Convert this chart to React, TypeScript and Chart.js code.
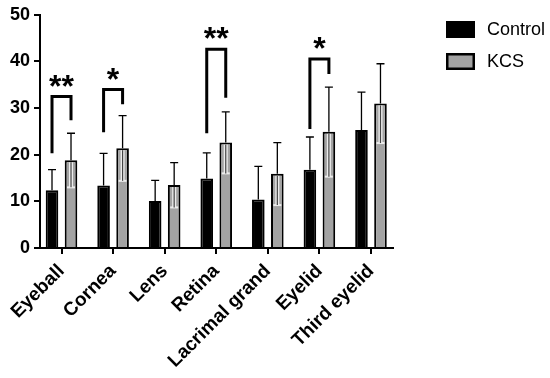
import React, { useEffect, useRef } from "react";
import { Chart, registerables } from "chart.js";
Chart.register(...registerables);

const categories = ["Eyeball", "Cornea", "Lens", "Retina", "Lacrimal grand", "Eyelid", "Third eyelid"];
const controlMeans = [12.4, 13.4, 10.1, 14.9, 10.4, 16.8, 25.3];
const controlSD = [4.4, 6.9, 4.4, 5.5, 7.1, 7.0, 8.1];
const kcsMeans = [18.8, 21.4, 13.5, 22.6, 15.9, 24.9, 31.0];
const kcsSD = [5.8, 7.0, 4.8, 6.6, 6.7, 9.6, 8.5];
const seriesNames = ["Control", "KCS"];

const sigCategory = [0, 1, 3, 5];
const sigLabels = ["**", "*", "**", "*"];
const sigLeftEnd = [20.3, 24.8, 24.6, 25.5];
const sigRightEnd = [27.4, 30.8, 32.2, 37.3];
const sigTop = [32.5, 34.0, 42.6, 40.5];
const sigLabelY = [35.9, 37.2, 46.0, 43.9];

const FONT = 'Arial, "Liberation Sans", Helvetica, sans-serif';

const errorBarPlugin = {
  id: "errorBars",
  afterDatasetsDraw(chart: any) {
    const ctx = chart.ctx;
    const y = chart.scales.y;
    chart.data.datasets.forEach((ds: any, di: number) => {
      const meta = chart.getDatasetMeta(di);
      meta.data.forEach((bar: any, i: number) => {
        const m = ds.data[i].y;
        const sd = ds.errors[i];
        const x = bar.x;
        const yTop = y.getPixelForValue(m + sd);
        const yMean = y.getPixelForValue(m);
        ctx.save();
        if (ds.innerError) {
          const yLow = y.getPixelForValue(m - sd);
          ctx.strokeStyle = "rgba(240,240,240,0.95)";
          ctx.lineWidth = 4;
          ctx.beginPath();
          ctx.moveTo(x, yMean + 2);
          ctx.lineTo(x, yLow);
          ctx.stroke();
          ctx.lineWidth = 2;
          ctx.beginPath();
          ctx.moveTo(x - 4, yLow);
          ctx.lineTo(x + 4, yLow);
          ctx.stroke();
          ctx.strokeStyle = "#444";
          ctx.lineWidth = 1.2;
          ctx.beginPath();
          ctx.moveTo(x, yMean + 2);
          ctx.lineTo(x, yLow);
          ctx.stroke();
        }
        ctx.strokeStyle = "#000";
        ctx.lineWidth = 1.3;
        ctx.beginPath();
        ctx.moveTo(x, yMean);
        ctx.lineTo(x, yTop);
        ctx.moveTo(x - 4, yTop);
        ctx.lineTo(x + 4, yTop);
        ctx.stroke();
        ctx.restore();
      });
    });
  },
};

const sigPlugin = {
  id: "significance",
  afterDraw(chart: any) {
    const ctx = chart.ctx;
    const y = chart.scales.y;
    const m0 = chart.getDatasetMeta(0);
    const m1 = chart.getDatasetMeta(1);
    ctx.save();
    sigCategory.forEach((ci, k) => {
      const xL = m0.data[ci].x;
      const xR = m1.data[ci].x;
      const yT = y.getPixelForValue(sigTop[k]);
      ctx.strokeStyle = "#000";
      ctx.lineWidth = 3;
      ctx.lineJoin = "miter";
      ctx.lineCap = "butt";
      ctx.beginPath();
      ctx.moveTo(xL, y.getPixelForValue(sigLeftEnd[k]));
      ctx.lineTo(xL, yT);
      ctx.lineTo(xR, yT);
      ctx.lineTo(xR, y.getPixelForValue(sigRightEnd[k]));
      ctx.stroke();
      ctx.font = `bold 32px ${FONT}`;
      ctx.fillStyle = "#000";
      ctx.textAlign = "center";
      ctx.textBaseline = "alphabetic";
      const mt = ctx.measureText(sigLabels[k]);
      const cy = y.getPixelForValue(sigLabelY[k]);
      const base = cy + (mt.actualBoundingBoxAscent - mt.actualBoundingBoxDescent) / 2;
      ctx.fillText(sigLabels[k], (xL + xR) / 2, base);
    });
    ctx.restore();
  },
};

const legendPlugin = {
  id: "customLegend",
  afterDraw(chart: any) {
    const ctx = chart.ctx;
    const bx = 446;
    const rows = [29, 61];
    ctx.save();
    chart.data.datasets.forEach((ds: any, i: number) => {
      const cy = rows[i];
      ctx.fillStyle = ds.backgroundColor;
      ctx.fillRect(bx, cy - 8, 29, 17);
      ctx.strokeStyle = "#000";
      ctx.lineWidth = 2.5;
      ctx.strokeRect(bx + 1.25, cy - 8 + 1.25, 29 - 2.5, 17 - 2.5);
      ctx.fillStyle = "#000";
      ctx.font = `18px ${FONT}`;
      ctx.textAlign = "left";
      ctx.textBaseline = "middle";
      ctx.fillText(ds.label, 487, cy + 1);
    });
    ctx.restore();
  },
};

export default function App() {
  const ref = useRef<HTMLCanvasElement | null>(null);
  useEffect(() => {
    if (!ref.current) return;
    const chart = new Chart(ref.current, {
      type: "bar",
      data: {
        datasets: [
          {
            label: seriesNames[0],
            data: controlMeans.map((v, i) => ({ x: i, y: v })),
            backgroundColor: "#000000",
            borderColor: "#000000",
            borderWidth: 2,
            errors: controlSD,
            innerError: false,
          } as any,
          {
            label: seriesNames[1],
            data: kcsMeans.map((v, i) => ({ x: i, y: v })),
            backgroundColor: "#a3a3a3",
            borderColor: "#000000",
            borderWidth: 2,
            errors: kcsSD,
            innerError: true,
          } as any,
        ],
      },
      options: {
        animation: false,
        responsive: true,
        maintainAspectRatio: false,
        categoryPercentage: 0.737,
        barPercentage: 0.663,
        layout: { padding: { top: 13, right: 157, left: 0, bottom: 0 } },
        plugins: { legend: { display: false }, tooltip: { enabled: false } },
        scales: {
          x: {
            type: "linear",
            offset: false,
            min: -0.417,
            max: 6.427,
            afterBuildTicks: (s: any) => {
              s.ticks = categories.map((_, i) => ({ value: i }));
            },
            afterFit: (s: any) => {
              s.height = 130;
            },
            border: { color: "#000", width: 2 },
            grid: { display: true, offset: false, drawOnChartArea: false, drawTicks: true, tickLength: 6, color: "#000", lineWidth: 2 },
            ticks: {
              autoSkip: false,
              minRotation: 45,
              maxRotation: 45,
              padding: 6,
              color: "#000",
              font: { family: FONT, size: 19, weight: "bold" },
              callback: (_v: any, i: number) => categories[i],
            },
          },
          y: {
            min: 0,
            max: 50,
            afterFit: (s: any) => {
              s.width = 40;
            },
            border: { color: "#000", width: 2 },
            grid: { display: true, drawOnChartArea: false, drawTicks: true, tickLength: 6, color: "#000", lineWidth: 2 },
            ticks: {
              stepSize: 10,
              padding: 4,
              color: "#000",
              font: { family: FONT, size: 18, weight: "bold" },
            },
          },
        },
      } as any,
      plugins: [errorBarPlugin, sigPlugin, legendPlugin],
    });
    return () => chart.destroy();
  }, []);
  return (
    <div style={{ position: "absolute", left: 0, top: 0, width: 550, height: 378, background: "#fff" }}>
      <canvas ref={ref} />
    </div>
  );
}
